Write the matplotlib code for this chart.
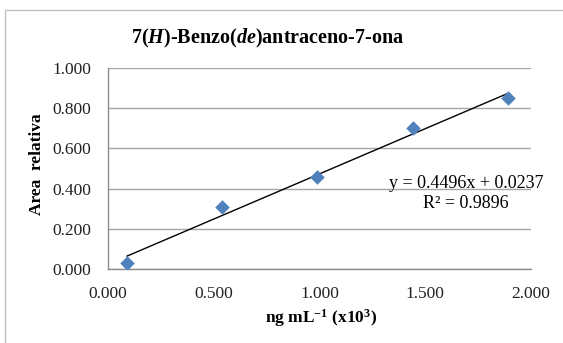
import numpy as np
import matplotlib
matplotlib.use("Agg")
import matplotlib.pyplot as plt
from matplotlib.patches import Rectangle

# data
conc = [0.09, 0.54, 0.99, 1.44, 1.89]
area = [0.03, 0.31, 0.46, 0.70, 0.85]
slope, intercept = 0.4496, 0.0237
r2 = 0.9896

x_ticks = [0.0, 0.5, 1.0, 1.5, 2.0]
y_ticks = [0.0, 0.2, 0.4, 0.6, 0.8, 1.0]

plt.rcParams["font.family"] = ["Liberation Serif", "DejaVu Serif"]
plt.rcParams["mathtext.fontset"] = "custom"
plt.rcParams["mathtext.rm"] = "Liberation Serif"
plt.rcParams["mathtext.it"] = "Liberation Serif:italic"
plt.rcParams["mathtext.bf"] = "Liberation Serif:bold"
plt.rcParams["mathtext.bfit"] = "Liberation Serif:bold:italic"

fig = plt.figure(figsize=(5.63, 3.43), dpi=100)
# outer chart frame (clipped at right/bottom like the reference)
fig.patches.append(Rectangle((5 / 563, -0.05), 1.2, 1 - 10 / 343 + 0.05,
                             transform=fig.transFigure, fill=False,
                             edgecolor="#BFBFBF", linewidth=1.0))

ax = fig.add_axes([108 / 563, 1 - 269 / 343, 423 / 563, 201 / 343])

ax.scatter(conc, area, marker="D", s=55, color="#4F81BD", zorder=3, linewidths=0)
xl = np.array([conc[0], conc[-1]])
ax.plot(xl, slope * xl + intercept, color="black", linewidth=1.0, zorder=2)

ax.set_xlim(0, 2)
ax.set_ylim(0, 1)
ax.set_xticks(x_ticks)
ax.set_yticks(y_ticks)
ax.set_xticklabels([f"{v:.3f}" for v in x_ticks])
ax.set_yticklabels([f"{v:.3f}" for v in y_ticks])
ax.tick_params(length=0, labelsize=12.5, colors="#222222", pad=12)
ax.grid(axis="y", color="#A6A6A6", linewidth=1.0)
ax.set_axisbelow(True)
for s in ["top", "right"]:
    ax.spines[s].set_visible(False)
for s in ["left", "bottom"]:
    ax.spines[s].set_color("#8C8C8C")
    ax.spines[s].set_linewidth(1.0)

ax.set_ylabel("Area  relativa", fontsize=12.5, fontweight="bold")
ax.yaxis.set_label_coords(37 / 563, 1 - 164 / 343, transform=fig.transFigure)
ax.set_xlabel(r"ng mL$^{\mathbf{-1}}$ (x10$^{\mathbf{3}}$)", fontsize=12.5,
              fontweight="bold")
ax.xaxis.set_label_coords(321 / 563, 1 - 318 / 343, transform=fig.transFigure)
ax.xaxis.label.set_va("center")
ax.yaxis.label.set_va("center")

fig.text(268 / 563, 1 - 38 / 343,
         r"7($\mathbfit{H}$)-Benzo($\mathbfit{de}$)antraceno-7-ona",
         ha="center", va="center", fontsize=14.5, fontweight="bold")

ax.text(466 / 563, 1 - 183 / 343, f"y = {slope}x + {intercept}",
        transform=fig.transFigure, ha="center", va="center", fontsize=13)
ax.text(466 / 563, 1 - 203 / 343, f"R² = {r2}",
        transform=fig.transFigure, ha="center", va="center", fontsize=13)

fig.savefig("out.png", dpi=100)
